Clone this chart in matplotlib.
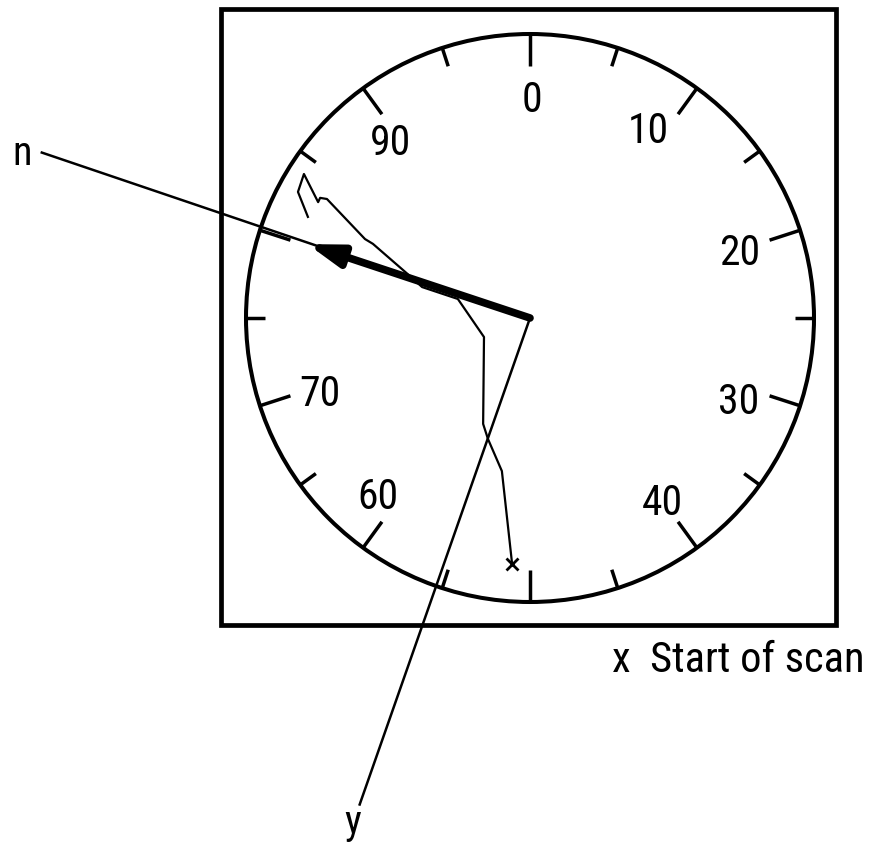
import numpy as np
import matplotlib
matplotlib.use("Agg")
import matplotlib.pyplot as plt
from matplotlib.patches import Rectangle, Circle
from matplotlib import font_manager as fm

# ---------------- data ----------------
dial_units = 100                      # one full turn of the dial
tick_values = list(range(0, 100, 5))  # ticks every 5 units
label_values = [0, 10, 20, 30, 40, 60, 70, 90]

# scan trace, in units of dial radius relative to dial centre (y up)
trace_x = [-0.063, -0.099, -0.148, -0.165, -0.162, -0.254, -0.380, -0.423,
           -0.553, -0.581, -0.715, -0.739, -0.746, -0.796, -0.817, -0.782]
trace_y = [-0.866, -0.539, -0.426, -0.373, -0.067, 0.067, 0.109, 0.148,
           0.261, 0.278, 0.419, 0.423, 0.408, 0.507, 0.444, 0.356]

arrow_dir_units = 80.1     # direction of thick arrow (dial units)
arrow_length = 0.826       # fraction of dial radius
n_dir_units = 80.2
y_dir_units = 55.36
axis_line_length = 1.815

legend_text = "x  Start of scan"

# ---------------- font choice (prefer a condensed sans) ----------------
def pick_condensed():
    good_w = (400, 'normal', 'regular', 'book')
    cands = []
    for f in fm.fontManager.ttflist:
        nm = f.name.lower()
        fn = f.fname.lower()
        cond = (f.stretch in ('condensed', 'semi-condensed', 'extra-condensed')
                or 'narrow' in nm or 'condensed' in nm
                or 'narrow' in fn or 'condensed' in fn)
        if not cond or f.style != 'normal' or f.weight not in good_w:
            continue
        if 'bold' in fn or 'italic' in fn or 'light' in fn or 'medium' in fn \
                or 'semibold' in fn or 'black' in fn or 'thin' in fn:
            continue
        cands.append(f)
    order = ['liberation', 'noto sans', 'roboto', 'open sans', 'dejavu']
    def key(f):
        nm = f.name.lower()
        fn = f.fname.lower()
        rank = next((i for i, o in enumerate(order) if o in nm), len(order))
        extra = 1 if ('extra' in fn or 'ultra' in fn) else 0
        semi = 1 if 'semi' in fn else 0
        return (rank, extra, semi)
    cands.sort(key=key)
    return cands[0].fname if cands else None

COND = pick_condensed()

def fp(size):
    if COND:
        return fm.FontProperties(fname=COND, size=size)
    return fm.FontProperties(family=['Roboto', 'DejaVu Sans'], size=size * 0.85)

# ---------------- layout ----------------
R_PX = 284.0
W, H = 873, 845
CX, CY = 530, 319
PT = 0.72  # points per pixel at dpi 100

fig = plt.figure(figsize=(W / 100, H / 100), dpi=100)
ax = fig.add_axes([0, 0, 1, 1])
ax.set_xlim(-CX / R_PX, (W - CX) / R_PX)
ax.set_ylim(-(H - CY) / R_PX, CY / R_PX)
ax.set_aspect('equal')
ax.axis('off')

def unit_to_angle(u):
    return np.deg2rad(360.0 * u / dial_units)

def polar(u, r):
    a = unit_to_angle(u)
    return r * np.sin(a), r * np.cos(a)

# frame
ax.add_patch(Rectangle((-1.088, -1.081), 2.165, 2.169, fill=False,
                       lw=3.4, ec='black'))
# dial circle
ax.add_patch(Circle((0, 0), 1.0, fill=False, lw=2.9, ec='black'))

# ticks
for v in tick_values:
    length = 0.113 if v % 10 == 0 else 0.068
    x0, y0 = polar(v, 1.0)
    x1, y1 = polar(v, 1.0 - length)
    ax.plot([x0, x1], [y0, y1], color='black', lw=2.5, solid_capstyle='butt')

# tick labels (small nudges in pixels)
label_offsets_px = {0: (2, 0), 10: (-13, 12), 20: (-2, 1), 30: (-3, -10),
                    40: (1, 0), 60: (-21, 6), 70: (2, -2), 90: (-8, 0)}
for v in label_values:
    x, y = polar(v, 0.785)
    dx, dy = label_offsets_px[v]
    ax.annotate(str(v), (x, y), xytext=(dx * PT, dy * PT),
                textcoords='offset points', ha='center', va='center_baseline',
                fontproperties=fp(30))

# n and y reference lines
nx, ny = polar(n_dir_units, axis_line_length)
ax.plot([0, nx], [0, ny], color='black', lw=1.8)
yx, yy = polar(y_dir_units, axis_line_length)
ax.plot([0, yx], [0, yy], color='black', lw=1.8)
ax.annotate('n', (nx, ny), xytext=(-20 * PT, -11 * PT), textcoords='offset points',
            ha='center', va='baseline', fontproperties=fp(29))
ax.annotate('y', (yx, yy), xytext=(-7 * PT, -28 * PT), textcoords='offset points',
            ha='center', va='baseline', fontproperties=fp(29))

# scan trace
ax.plot(trace_x, trace_y, color='black', lw=1.6)
ax.plot(trace_x[0], trace_y[0], marker='x', color='black', ms=9, mew=2)

# thick arrow
ax_, ay_ = polar(arrow_dir_units, arrow_length)
ax.annotate('', xy=(ax_, ay_), xytext=(0, 0),
            arrowprops=dict(arrowstyle='-|>,head_length=1.0,head_width=0.32',
                            lw=5.5, color='black', shrinkA=0, shrinkB=0,
                            mutation_scale=20))

# legend text below the frame, fitted to its width in the reference (612..865 px)
leg = ax.text((612 - CX) / R_PX, (CY - 672) / R_PX, legend_text, ha='left',
              va='baseline', fontproperties=fp(27))
fig.canvas.draw()
w_px = leg.get_window_extent().width
target = 865 - 612
leg.set_fontsize(leg.get_fontsize() * target / w_px)

fig.savefig('out.png', dpi=100)
